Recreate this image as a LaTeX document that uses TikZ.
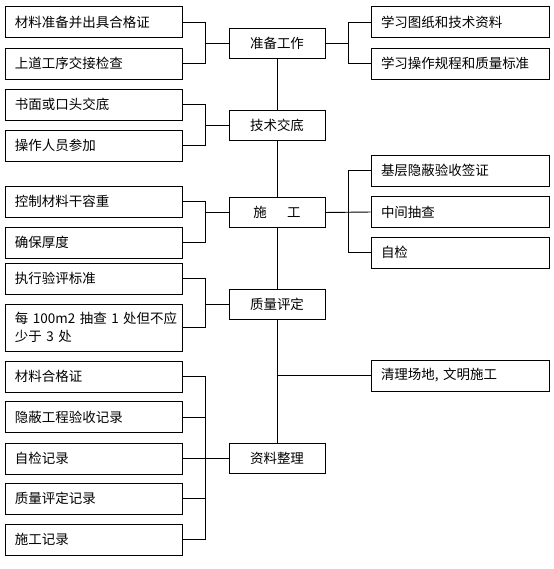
\documentclass[tikz,border=0pt]{standalone}
\usepackage{fontspec}
\setmainfont{Noto Sans CJK SC}
\usetikzlibrary{positioning,calc}

\begin{document}
\begin{tikzpicture}[
    x=0.03cm, y=-0.03cm,
    item/.style={rectangle, draw=black, line width=0.8pt, text width=4.71cm,
                 inner xsep=0.3cm, inner ysep=0pt, minimum height=0.93cm,
                 align=left, font=\fontsize{11.5}{17}\selectfont},
    ritem/.style={item, text width=4.74cm},
    stage/.style={rectangle, draw=black, line width=0.8pt, minimum width=2.88cm,
                  minimum height=0.9cm, inner sep=0pt, align=center,
                  font=\fontsize{11.5}{14}\selectfont},
    link/.style={line width=0.8pt}
]
\useasboundingbox (0,0) rectangle (553,569);

% Main stages
\node[stage] (prep) at (277, 43) {准备工作};
\node[stage] (tech) at (277, 125) {技术交底};
\node[stage] (cons) at (277, 212.5) {施\hspace{1.5em}工};
\node[stage] (qual) at (277, 304) {质量评定};
\node[stage] (docs) at (277, 458.5) {资料整理};

% Left items
\node[item] (l1) at (93.5, 22) {材料准备并出具合格证};
\node[item] (l2) at (93.5, 63.5) {上道工序交接检查};
\node[item] (l3) at (93.5, 104.5) {书面或口头交底};
\node[item] (l4) at (93.5, 145.5) {操作人员参加};
\node[item] (l5) at (93.5, 201.5) {控制材料干容重};
\node[item] (l6) at (93.5, 242.5) {确保厚度};
\node[item] (l7) at (93.5, 278.5) {执行验评标准};
\node[item, minimum height=1.41cm, font=\fontsize{11.5}{15}\selectfont] (l8) at (93.5, 327.5)
     {\mbox{每 100m2 抽查 1 处但不应}\\少于 3 处};
\node[item] (l9) at (93.5, 376.5) {材料合格证};
\node[item] (l10) at (93.5, 417) {隐蔽工程验收记录};
\node[item] (l11) at (93.5, 458.5) {自检记录};
\node[item] (l12) at (93.5, 498.5) {质量评定记录};
\node[item] (l13) at (93.5, 539.5) {施工记录};

% Right items
\node[ritem] (r1) at (460, 22) {学习图纸和技术资料};
\node[ritem] (r2) at (460, 63.5) {学习操作规程和质量标准};
\node[ritem] (r3) at (460, 170.5) {基层隐蔽验收签证};
\node[ritem] (r4) at (460, 212) {中间抽查};
\node[ritem] (r5) at (460, 252.5) {自检};
\node[ritem] (r6) at (460, 375.5) {清理场地, 文明施工};

% Rails
\coordinate (lrail) at (205, 0);
\coordinate (rrail) at (348, 0);

% Spine
\draw[link] (prep) -- (tech);
\draw[link] (tech) -- (cons);
\draw[link] (cons) -- (qual);
\draw[link] (qual) -- (docs);

% Left brackets
\draw[link] (l1.east) -- (l1.east -| lrail) -- (l2.east -| lrail) -- (l2.east);
\draw[link] (prep.west -| lrail) -- (prep.west);
\draw[link] (l3.east) -- (l3.east -| lrail) -- (l4.east -| lrail) -- (l4.east);
\draw[link] (tech.west -| lrail) -- (tech.west);
\draw[link] (l5.east) -- (l5.east -| lrail) -- (l6.east -| lrail) -- (l6.east);
\draw[link] (cons.west -| lrail) -- (cons.west);
\draw[link] (l7.east) -- (l7.east -| lrail) -- (l8.east -| lrail) -- (l8.east);
\draw[link] (qual.west -| lrail) -- (qual.west);
\draw[link] (l9.east) -- (l9.east -| lrail) -- (l13.east -| lrail) -- (l13.east);
\draw[link] (l10.east) -- (l10.east -| lrail);
\draw[link] (l11.east) -- (docs.west);
\draw[link] (l12.east) -- (l12.east -| lrail);

% Right brackets
\draw[link] (r1.west) -- (r1.west -| rrail) -- (r2.west -| rrail) -- (r2.west);
\draw[link] (prep.east) -- (prep.east -| rrail);
\draw[link] (r3.west) -- (r3.west -| rrail) -- (r5.west -| rrail) -- (r5.west);
\draw[link] (cons.east) -- (r4.west);
\draw[link] (r6.west) -- (r6.west -| qual.south);

\end{tikzpicture}
\end{document}
